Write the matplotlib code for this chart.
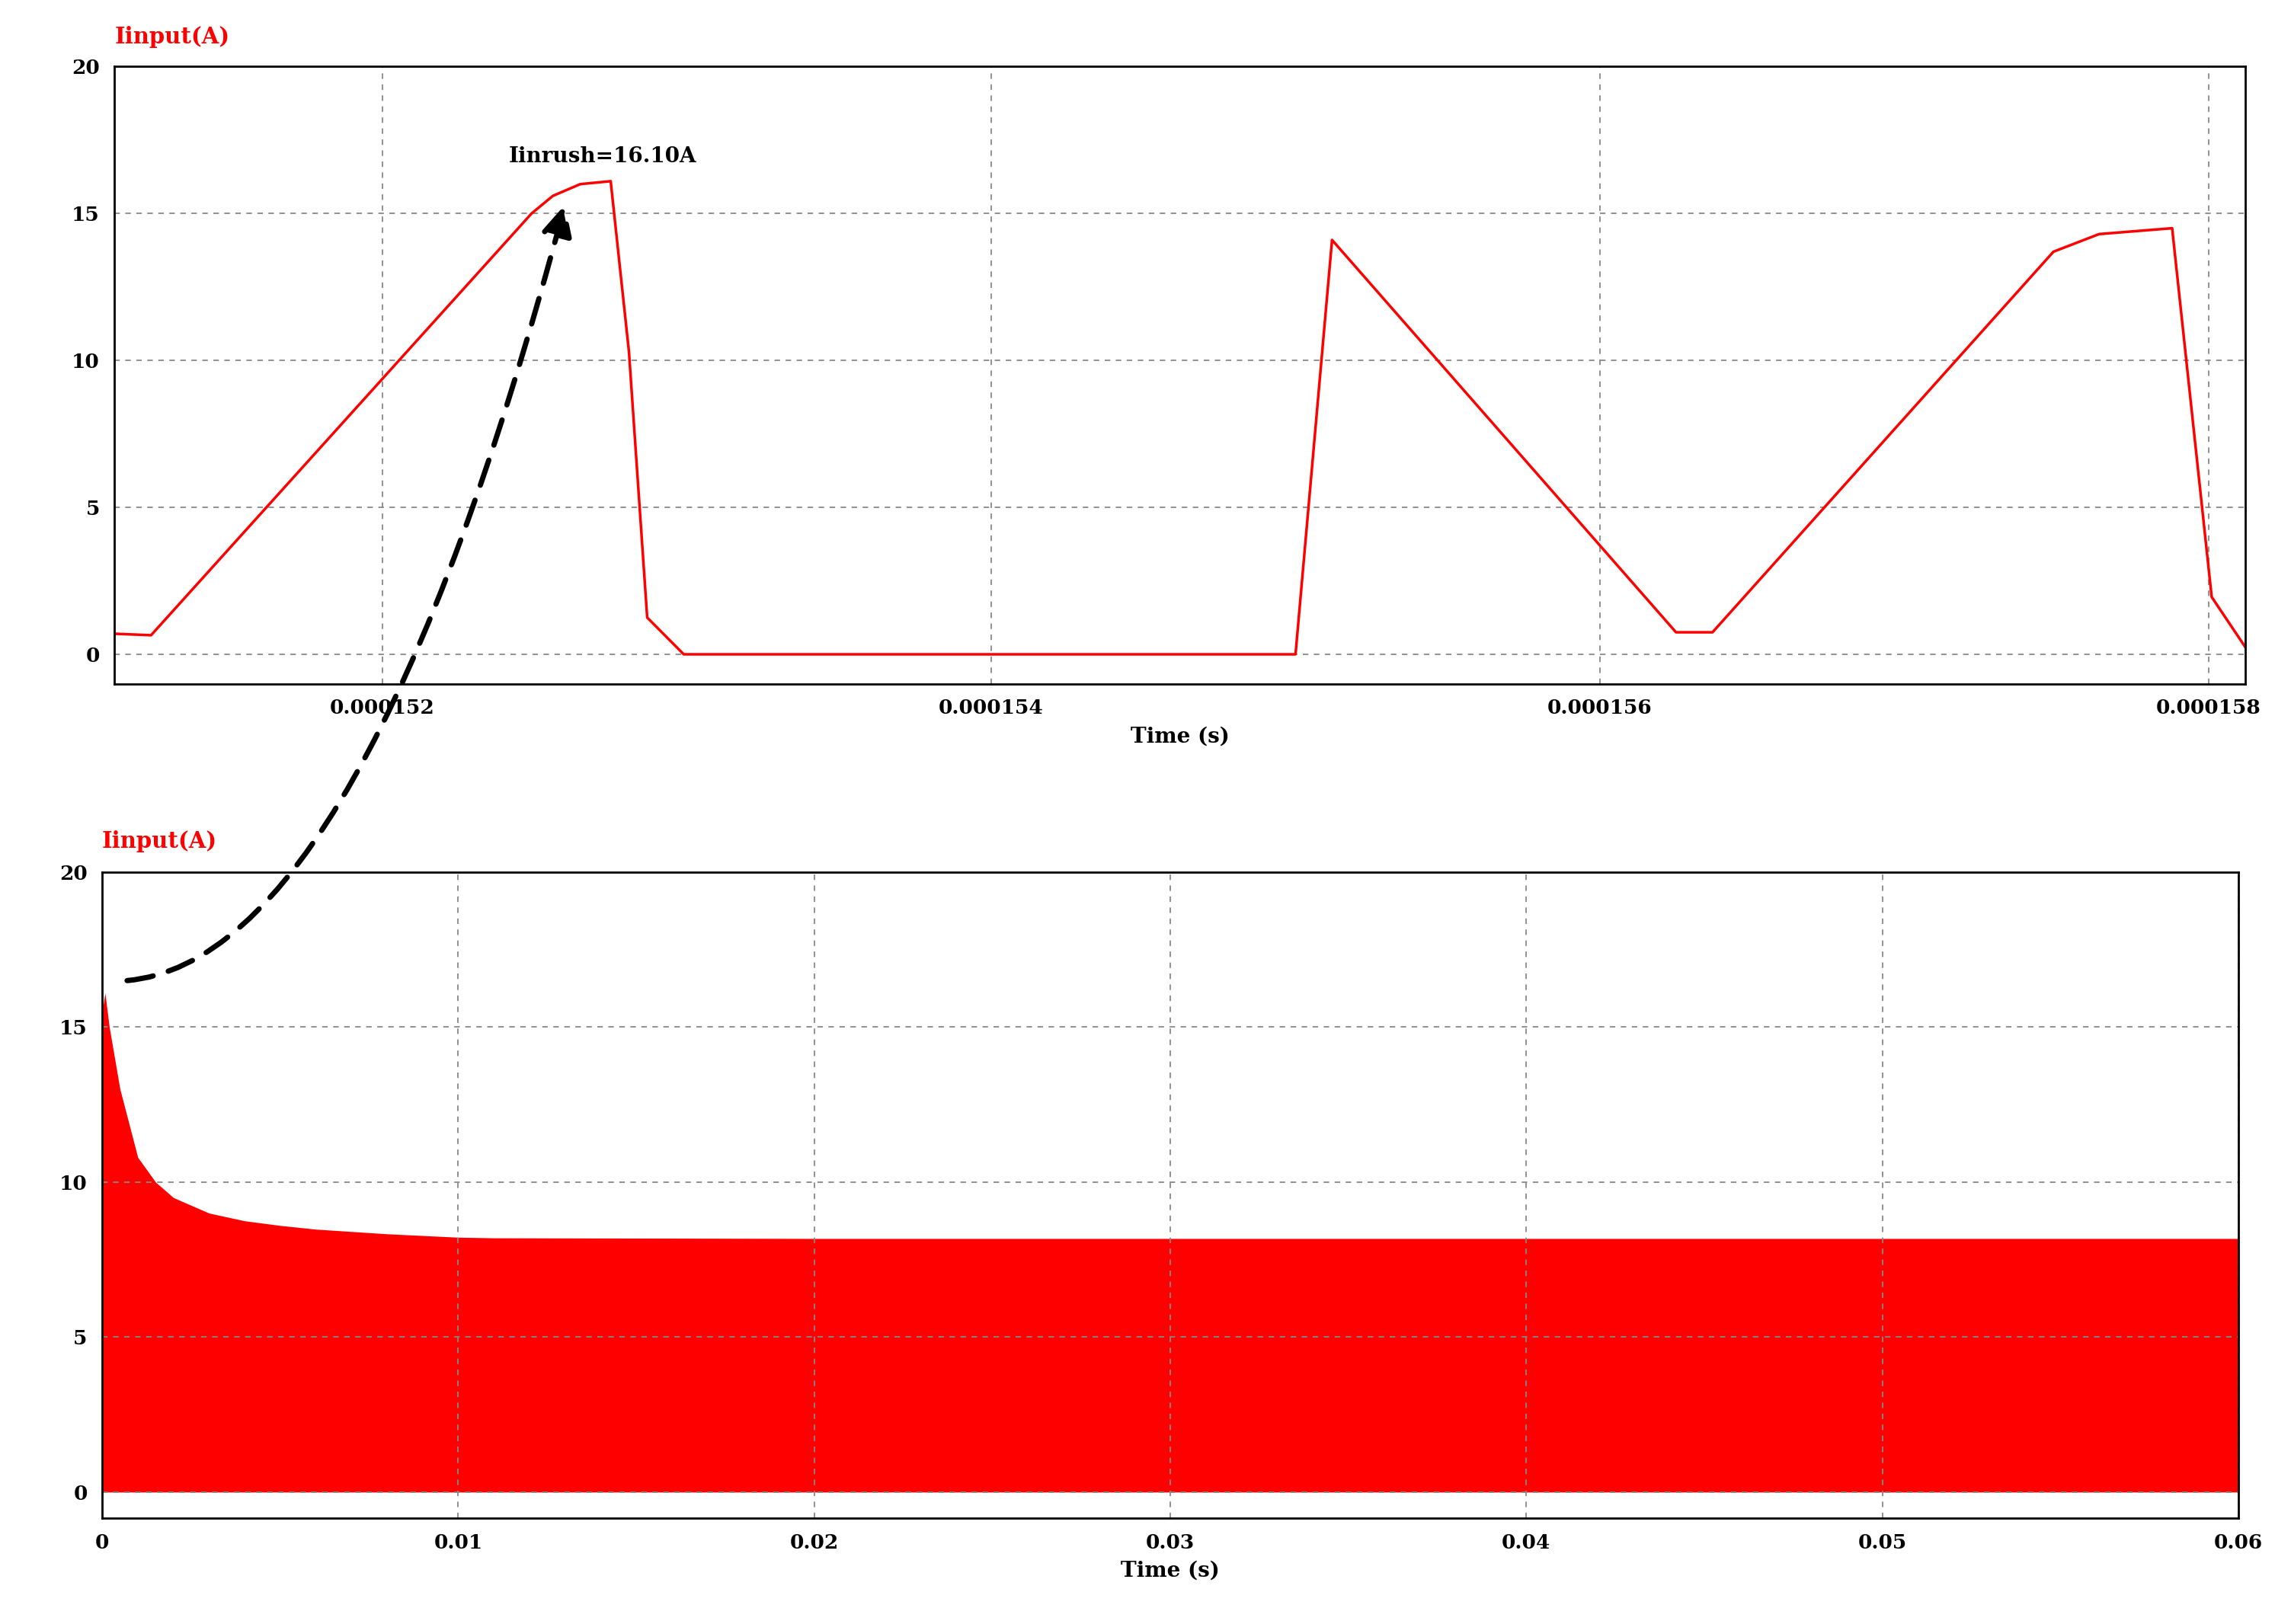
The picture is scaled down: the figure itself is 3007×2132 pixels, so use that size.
import matplotlib
matplotlib.use("Agg")
import matplotlib.pyplot as plt
from matplotlib.patches import ConnectionPatch
import numpy as np

# top panel data (time s, current A)
top_t = [0.00015112, 0.00015124, 0.00015249, 0.00015256, 0.00015265, 0.00015275, 0.00015281,
         0.00015287, 0.00015299, 0.00015500, 0.00015512, 0.00015625, 0.00015637,
         0.00015749, 0.00015764, 0.00015788, 0.00015801, 0.00015812]
top_i = [0.7, 0.65, 15.0, 15.6, 16.0, 16.1, 10.3, 1.25, 0.0, 0.0, 14.1, 0.75, 0.75,
         13.7, 14.3, 14.5, 1.95, 0.25]
# bottom panel envelope
bot_t = [0.0, 0.00008, 0.0002, 0.0005, 0.001, 0.0015, 0.002, 0.003, 0.004, 0.005, 0.006, 0.008, 0.010, 0.011, 0.02, 0.04, 0.06]
bot_i = [15.5, 16.1, 15.0, 13.0, 10.8, 10.0, 9.5, 9.0, 8.75, 8.6, 8.48, 8.33, 8.22, 8.2, 8.18, 8.18, 8.18]
top_xticks = [0.000152, 0.000154, 0.000156, 0.000158]
bot_xticks = [0, 0.01, 0.02, 0.03, 0.04, 0.05, 0.06]
yticks = [0, 5, 10, 15, 20]

plt.rcParams['font.family'] = ['DejaVu Serif']
plt.rcParams['font.weight'] = 'bold'
fig = plt.figure(figsize=(30.07, 21.32), dpi=100)
ax1 = fig.add_axes([0.050, 0.579, 0.930, 0.380])
ax2 = fig.add_axes([0.0446, 0.065, 0.9324, 0.398])

ax1.plot(top_t, top_i, color='red', lw=2.5)
ax1.set_xlim(0.00015112, 0.00015812)
ax1.set_ylim(-1.0, 20)
ax1.set_xticks(top_xticks)
ax1.set_xticklabels(['0.000152', '0.000154', '0.000156', '0.000158'])

ax2.fill_between(bot_t, 0, bot_i, color='red', lw=0)
ax2.set_xlim(0, 0.0600)
ax2.set_ylim(-0.85, 20)
ax2.set_xticks(bot_xticks)
ax2.set_xticklabels(['0', '0.01', '0.02', '0.03', '0.04', '0.05', '0.06'])

for ax in (ax1, ax2):
    ax.set_yticks(yticks)
    ax.grid(True, ls=(0, (4, 4)), color='#888888', lw=1.3)
    ax.tick_params(labelsize=19, length=0, pad=14)
    for s in ax.spines.values():
        s.set_linewidth(2)
    ax.set_xlabel('Time (s)', fontsize=20, fontweight='bold', labelpad=8)
    ax.text(0.0, 1.03, 'Iinput(A)', transform=ax.transAxes, color='red', fontsize=21,
            fontweight='bold', ha='left', va='bottom')

ax1.text(0.000152725, 16.6, 'Iinrush=16.10A', fontsize=20, fontweight='bold', ha='center', va='bottom')

con = ConnectionPatch(xyA=(0.0007, 16.5), coordsA=ax2.transData,
                      xyB=(0.0001526, 15.3), coordsB=ax1.transData,
                      arrowstyle='-|>,head_length=1.2,head_width=0.6', mutation_scale=20,
                      connectionstyle='angle3,angleA=5,angleB=75',
                      ls=(0, (5, 3)), lw=5, color='black')
fig.add_artist(con)
fig.savefig('out.png', dpi=100)
